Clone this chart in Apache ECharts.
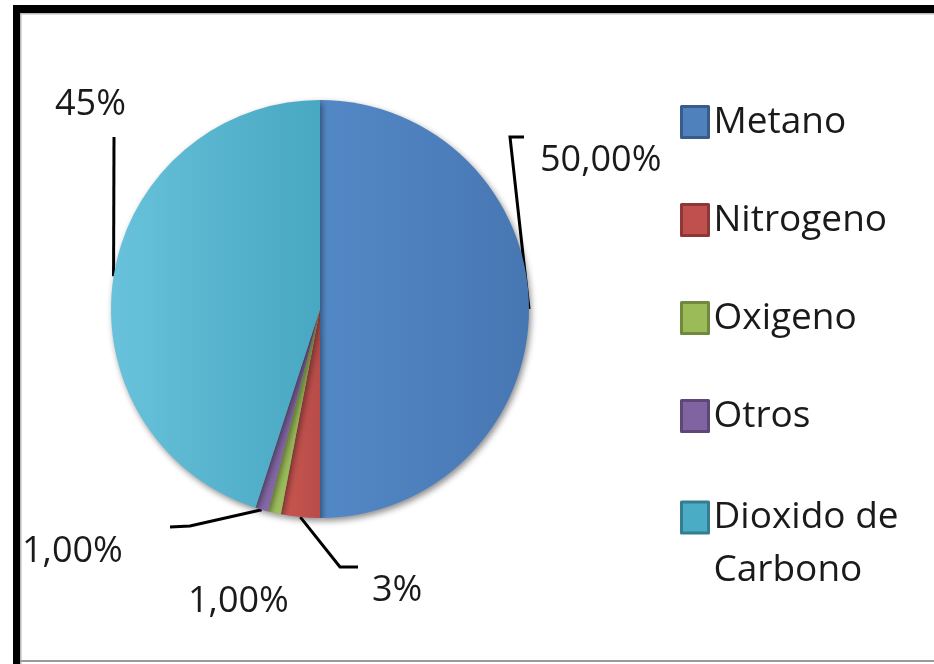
<!DOCTYPE html>
<html>
<head>
<meta charset="utf-8">
<script src="https://cdn.jsdelivr.net/npm/echarts@6/dist/echarts.min.js"></script>
<style>html,body{margin:0;padding:0;background:#fff;}#c{width:934px;height:664px;}</style>
</head>
<body>
<div id="c"></div>
<script>
const categories = ['Metano', 'Nitrogeno', 'Oxigeno', 'Otros', 'Dioxido de Carbono'];
const values = [50, 3, 1, 1, 45];
const labelTexts = ['50,00%', '3%', '1,00%', '1,00%', '45%'];
const colors = ['#4F81BD', '#C0504D', '#9BBB59', '#8064A2', '#4BACC6'];
const borderColors = ['#385D8A', '#8C3836', '#71893F', '#5C4776', '#357D91'];
// light -> dark horizontal shading of each slice (style only)
const shadeStops = [
  ['#5388c6', '#4777b3'],
  ['#c9564f', '#b84c49'],
  ['#a0c05e', '#93b353'],
  ['#8669a8', '#7a5f9c'],
  ['#68c2db', '#48a7c1']
];

// label anchor positions and label-line elbows (layout only)
const labelPos = [
  { x: 540, y: 161, line: [[510, 137], [524, 137]] },
  { x: 372, y: 591, line: [[340, 567], [358, 567]] },
  { x: 188, y: 602, line: null },
  { x: 22,  y: 552, line: [[190, 526], [170, 527]] },
  { x: 55,  y: 105, line: [[114, 137], [114, 137]] }
];

const FONT = 'Open Sans';
const chart = echarts.init(document.getElementById('c'));

const pieData = categories.map((n, i) => ({
  name: n,
  value: values[i],
  itemStyle: {
    color: {
      type: 'linear', x: 0, y: 0, x2: 1, y2: 0,
      colorStops: [{ offset: 0, color: shadeStops[i][0] }, { offset: 1, color: shadeStops[i][1] }]
    }
  },
  labelLine: { show: labelPos[i].line !== null }
}));

const legendItem = (i) => ({
  name: categories[i],
  itemStyle: { color: colors[i], borderColor: borderColors[i], borderWidth: 3 }
});

const legendBase = {
  orient: 'vertical',
  left: 680,
  padding: 0,
  itemWidth: 27,
  itemHeight: 31,
  icon: 'rect',
  selectedMode: false,
  textStyle: { fontFamily: FONT, fontSize: 37, color: '#1a1a1a', lineHeight: 50 }
};

chart.setOption({
  backgroundColor: '#fff',
  animation: false,
  graphic: [
    { type: 'rect', shape: { x: 13, y: 5, width: 921, height: 8 }, style: { fill: '#000' } },
    { type: 'rect', shape: { x: 13, y: 5, width: 7, height: 659 }, style: { fill: '#000' } },
    { type: 'rect', shape: { x: 20, y: 13, width: 914, height: 1.5 }, style: { fill: '#b8b8b8' } },
    { type: 'rect', shape: { x: 20, y: 13, width: 1.5, height: 651 }, style: { fill: '#b8b8b8' } },
    { type: 'rect', shape: { x: 20, y: 660, width: 914, height: 2 }, style: { fill: '#9a9a9a' } }
  ],
  legend: [
    Object.assign({}, legendBase, {
      top: 97,
      itemGap: 48,
      data: [0, 1, 2, 3].map(i => legendItem(i))
    }),
    Object.assign({}, legendBase, {
      top: 438,
      formatter: n => n === 'Dioxido de Carbono' ? '\nDioxido de\nCarbono' : n,
      textStyle: { fontFamily: FONT, fontSize: 37, color: '#1a1a1a', lineHeight: 53 },
      data: [legendItem(4)]
    })
  ],
  series: [{
    type: 'pie',
    center: [320, 309],
    radius: 209,
    startAngle: 90,
    clockwise: true,
    avoidLabelOverlap: false,
    emphasis: { disabled: true },
    itemStyle: {
      borderWidth: 0,
      shadowBlur: 6,
      shadowOffsetX: 2,
      shadowOffsetY: 3,
      shadowColor: 'rgba(0,0,0,0.45)'
    },
    label: {
      show: true,
      position: 'outside',
      fontFamily: FONT,
      fontSize: 36,
      color: '#1a1a1a',
      formatter: p => labelTexts[p.dataIndex]
    },
    labelLine: { show: true, lineStyle: { color: '#000', width: 3 } },
    labelLayout: function (params) {
      const p = labelPos[params.dataIndex];
      const res = { x: p.x, y: p.y, align: 'left', verticalAlign: 'middle' };
      if (p.line && params.labelLinePoints) {
        res.labelLinePoints = [params.labelLinePoints[0], p.line[0], p.line[1]];
      }
      return res;
    },
    data: pieData
  }]
});
</script>
</body>
</html>
